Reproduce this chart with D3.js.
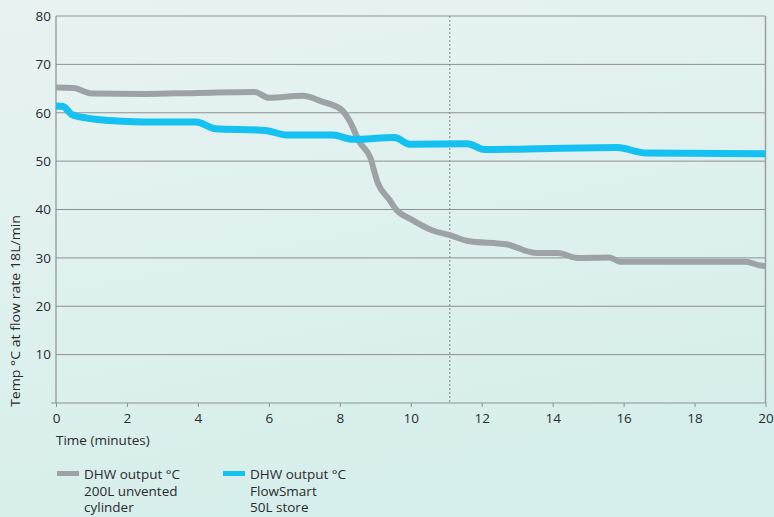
<!DOCTYPE html>
<html>
<head>
<meta charset="utf-8">
<script src="https://cdn.jsdelivr.net/npm/d3@7"></script>
<style>
  body { margin: 0; }
  svg { display: block; font-family: "Open Sans", "Noto Sans", sans-serif; }
</style>
</head>
<body>
<script>
// time in minutes, temperature in °C
const cylTime = [0, 0.5, 1.0, 2.5, 4, 5.6, 6.0, 6.95, 7.5, 8.05, 8.3, 8.55, 8.85, 9.07, 9.4, 9.6, 10.0, 10.6, 11.1, 11.6, 12.7, 13.55, 14.15, 14.7, 15.6, 15.9, 17.5, 19.45, 19.8, 20]
const cylTemp = [65.2, 65.1, 64.0, 63.9, 64.1, 64.3, 63.1, 63.5, 62.3, 60.6, 58.0, 54.0, 50.9, 45.5, 42.0, 39.9, 38.0, 35.7, 34.7, 33.5, 32.8, 31.0, 31.0, 30.0, 30.1, 29.2, 29.2, 29.2, 28.5, 28.3]

const storeTime = [0, 0.2, 0.45, 0.87, 1.5, 2.45, 3.95, 4.5, 5.75, 5.95, 6.5, 7.8, 8.35, 9.55, 9.97, 11.6, 12.08, 15.83, 16.6, 20]
const storeTemp = [61.4, 61.3, 59.6, 58.9, 58.4, 58.1, 58.1, 56.7, 56.4, 56.3, 55.4, 55.4, 54.5, 54.9, 53.5, 53.6, 52.4, 52.8, 51.7, 51.5]

const xTicks = [0, 2, 4, 6, 8, 10, 12, 14, 16, 18, 20]
const yTicks = [10, 20, 30, 40, 50, 60, 70, 80]
const markerTime = 11.1

const legendLabels = [
  ["DHW output °C", "200L unvented", "cylinder"],
  ["DHW output °C", "FlowSmart", "50L store"]
]
const grey = "#9da2a6"
const blue = "#14c1f1"

const W = 774, H = 517
const svg = d3.select("body").append("svg")
  .attr("width", W)
  .attr("height", H)

const grad = svg.append("defs").append("linearGradient")
  .attr("id", "bg").attr("x1", 0).attr("y1", 0).attr("x2", 0.3).attr("y2", 1)
grad.append("stop").attr("offset", 0).attr("stop-color", "#e8f3f1")
grad.append("stop").attr("offset", 1).attr("stop-color", "#d6eeeb")
svg.append("rect").attr("width", W).attr("height", H).attr("fill", "url(#bg)")

const x = d3.scaleLinear().domain([0, 20]).range([56, 765.5])
const y = d3.scaleLinear().domain([0, 80]).range([403, 16])

// gridlines
svg.append("g")
  .selectAll("line")
  .data(yTicks)
  .enter()
    .append("line")
    .attr("x1", x(0)).attr("x2", x(20))
    .attr("y1", d => y(d)).attr("y2", d => y(d))
    .attr("stroke", "#8c9191")
    .attr("stroke-width", 1)

// right border
svg.append("line")
  .attr("x1", x(20)).attr("x2", x(20))
  .attr("y1", y(80)).attr("y2", y(0))
  .attr("stroke", "#9aa09f").attr("stroke-width", 1.5)

// left axis line
svg.append("line")
  .attr("x1", x(0)).attr("x2", x(0))
  .attr("y1", y(80)).attr("y2", y(0))
  .attr("stroke", "#8c9191").attr("stroke-width", 1.2)

// y tick labels
svg.append("g")
  .selectAll("text")
  .data(yTicks)
  .enter()
    .append("text")
    .attr("x", 51)
    .attr("y", d => y(d))
    .attr("dy", "0.36em")
    .attr("text-anchor", "end")
    .attr("font-size", 13.5)
    .attr("fill", "#2b2b2b")
    .text(d => d)

// x axis
const xAxis = svg.append("g")
  .attr("transform", `translate(0,${y(0)})`)
  .call(d3.axisBottom(x).tickValues(xTicks).tickSize(4).tickSizeOuter(0).tickPadding(6))
xAxis.select(".domain").remove()
xAxis.append("line")
  .attr("x1", 51).attr("x2", x(20))
  .attr("stroke", "#8c9191").attr("stroke-width", 1.2)
xAxis.selectAll(".tick line").attr("stroke", "#8c9191")
xAxis.selectAll(".tick text")
  .attr("font-size", 13.5)
  .attr("font-family", "\"Open Sans\", sans-serif")
  .attr("fill", "#2b2b2b")

// dotted marker
svg.append("line")
  .attr("x1", x(markerTime)).attr("x2", x(markerTime))
  .attr("y1", y(80)).attr("y2", y(0))
  .attr("stroke", "#7f8585")
  .attr("stroke-width", 1)
  .attr("stroke-dasharray", "2,2")

const line = d3.line()
  .x(d => x(d[0]))
  .y(d => y(d[1]))
  .curve(d3.curveMonotoneX)

svg.append("path")
  .datum(cylTime.map((t, i) => [t, cylTemp[i]]))
  .attr("fill", "none")
  .attr("stroke", grey)
  .attr("stroke-width", 6)
  .attr("stroke-linejoin", "round")
  .attr("d", line)

svg.append("path")
  .datum(storeTime.map((t, i) => [t, storeTemp[i]]))
  .attr("fill", "none")
  .attr("stroke", blue)
  .attr("stroke-width", 7)
  .attr("stroke-linejoin", "round")
  .attr("d", line)

// axis titles
svg.append("text")
  .attr("x", 56).attr("y", 445)
  .attr("font-size", 13.5)
  .attr("fill", "#2b2b2b")
  .text("Time (minutes)")

svg.append("text")
  .attr("transform", "translate(20,407) rotate(-90)")
  .attr("font-size", 12)
  .attr("textLength", 192)
  .attr("lengthAdjust", "spacingAndGlyphs")
  .attr("fill", "#2b2b2b")
  .text("Temp °C at flow rate 18L/min")

// legend
const legend = svg.append("g")
  .selectAll("g")
  .data(legendLabels)
  .enter()
    .append("g")
    .attr("transform", (d, i) => `translate(${i === 0 ? 57 : 223},0)`)

legend.append("rect")
  .attr("x", 0).attr("y", 471)
  .attr("width", 22).attr("height", 5)
  .attr("fill", (d, i) => i === 0 ? grey : blue)

legend.append("text")
  .attr("x", 27)
  .attr("font-size", 13.5)
  .attr("fill", "#2b2b2b")
  .selectAll("tspan")
  .data(d => d)
  .enter()
    .append("tspan")
    .attr("x", 27)
    .attr("y", (d, i) => 479 + i * 16.5)
    .text(d => d)
</script>
</body>
</html>
